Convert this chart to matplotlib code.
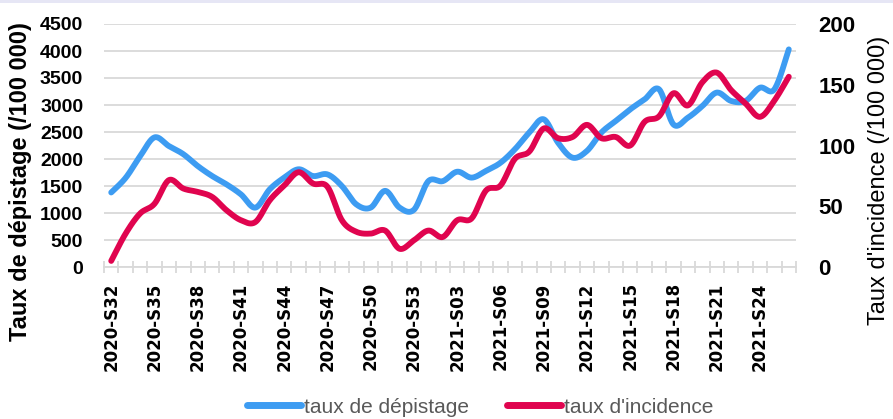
import numpy as np
import matplotlib
matplotlib.use("Agg")
import matplotlib.pyplot as plt
from matplotlib.patches import Rectangle

# ---- data ----
weeks_2020 = [f"2020-S{w:02d}" for w in range(32, 54)]
weeks_2021 = [f"2021-S{w:02d}" for w in range(1, 27)]
weeks = weeks_2020 + weeks_2021

taux_depistage = [1380, 1650, 2050, 2400, 2240, 2090, 1870, 1685, 1530, 1345,
                  1100, 1440, 1655, 1810, 1685, 1715, 1500, 1160, 1100, 1410,
                  1100, 1060, 1590, 1590, 1765, 1655, 1780, 1930, 2180, 2490,
                  2735, 2300, 2025, 2150, 2490, 2705, 2920, 3105, 3290, 2640,
                  2765, 2980, 3230, 3075, 3075, 3320, 3290, 4030]

taux_incidence = [5, 27.5, 44, 52, 71.5, 64.6, 61.8, 57.7, 46.7, 38.5,
                  37, 55, 67, 78, 68.7, 66, 38.5, 29, 27.5, 30,
                  15, 22, 30, 24.7, 38.5, 40, 63, 67, 89, 95,
                  114, 106, 107, 117, 106, 107, 100, 119.5, 124, 143,
                  133, 152, 160, 145.6, 134.6, 123.6, 137, 156.6]

left_ticks = list(range(0, 4501, 500))
right_ticks = list(range(0, 201, 50))

BLUE = "#3d9cf2"
RED = "#e0044f"
GRID = "#d9d9d9"


def smooth(y, n=20):
    """Excel-like smoothed line (cubic Bezier through points)."""
    y = np.asarray(y, dtype=float)
    x = np.arange(len(y), dtype=float)
    P = np.column_stack([x, y])
    out = []
    t = np.linspace(0, 1, n, endpoint=False)[:, None]
    for i in range(len(P) - 1):
        p0 = P[i]
        p3 = P[i + 1]
        pm = P[i - 1] if i > 0 else P[i]
        pp = P[i + 2] if i + 2 < len(P) else P[i + 1]
        c1 = p0 + (p3 - pm) / 6.0
        c2 = p3 - (pp - p0) / 6.0
        seg = ((1 - t) ** 3) * p0 + 3 * ((1 - t) ** 2) * t * c1 + 3 * (1 - t) * t ** 2 * c2 + t ** 3 * p3
        out.append(seg)
    out.append(P[-1][None, :])
    out = np.vstack(out)
    return out[:, 0], out[:, 1]


W, H = 893, 419
fig = plt.figure(figsize=(W / 100, H / 100), dpi=100)
fig.patch.set_facecolor("white")
fig.patches.append(Rectangle((0, 1 - 3 / H), 1, 3 / H, transform=fig.transFigure,
                             facecolor="#e6e6f5", edgecolor="none", zorder=0))

left, right, top, bottom = 104, 796, 24, 267
ax = fig.add_axes([left / W, 1 - bottom / H, (right - left) / W, (bottom - top) / H])
ax2 = ax.twinx()

n = len(weeks)
xb, yb = smooth(taux_depistage)
xr, yr = smooth(taux_incidence)
l1, = ax.plot(xb, yb, color=BLUE, lw=4.2, solid_capstyle="round", zorder=3,
              label="taux de dépistage")
l2, = ax2.plot(xr, yr, color=RED, lw=4.2, solid_capstyle="round", zorder=3,
               label="taux d'incidence")

ax.set_xlim(-0.5, n - 0.5)
ax.set_ylim(0, 4500)
ax2.set_ylim(0, 200)
ax.set_yticks(left_ticks)
ax2.set_yticks(right_ticks)
ax.grid(axis="y", color=GRID, lw=1.3)
ax.set_axisbelow(True)

for a in (ax, ax2):
    for s in a.spines.values():
        s.set_visible(False)
ax.spines["bottom"].set_visible(True)
ax.spines["bottom"].set_color(GRID)
ax.spines["bottom"].set_linewidth(1.3)

major = list(range(0, n, 3))
ax.set_xticks(major)
ax.set_xticklabels([weeks[i] for i in major], rotation=90, fontsize=12,
                   fontweight="bold", family="DejaVu Sans")
ax.tick_params(axis="x", which="major", length=0, pad=11)
ax.set_xticks(np.arange(-0.5, n, 1.0), minor=True)
ax.tick_params(axis="x", which="minor", length=9, direction="inout", color=GRID, width=1.3)

ax.tick_params(axis="y", length=0, pad=15)
for lab in ax.get_yticklabels():
    lab.set_fontweight("bold")
    lab.set_fontsize(14)
    lab.set_family("Liberation Sans")
ax2.tick_params(axis="y", length=0, pad=16)
for lab in ax2.get_yticklabels():
    lab.set_fontweight("bold")
    lab.set_fontsize(16)
    lab.set_family("Liberation Sans")

fig.text(21 / W, 1 - 182 / H, "Taux de dépistage (/100 000)", rotation=90,
         ha="center", va="center", fontsize=17, fontweight="bold", family="Liberation Sans")
fig.text(879 / W, 1 - 180 / H, "Taux d'incidence (/100 000)", rotation=90,
         ha="center", va="center", fontsize=17, family="Liberation Sans")

leg = fig.legend([l1, l2], ["taux de dépistage", "taux d'incidence"], loc="center",
                 bbox_to_anchor=(480 / W, 1 - 407 / H), ncol=2, frameon=False,
                 handlelength=2.6, handletextpad=0.15, columnspacing=1.8,
                 prop={"family": "Liberation Sans", "size": 15})
for t in leg.get_texts():
    t.set_color("#595959")
for h in leg.get_lines():
    h.set_linewidth(5)

fig.savefig("out.png", dpi=100)
